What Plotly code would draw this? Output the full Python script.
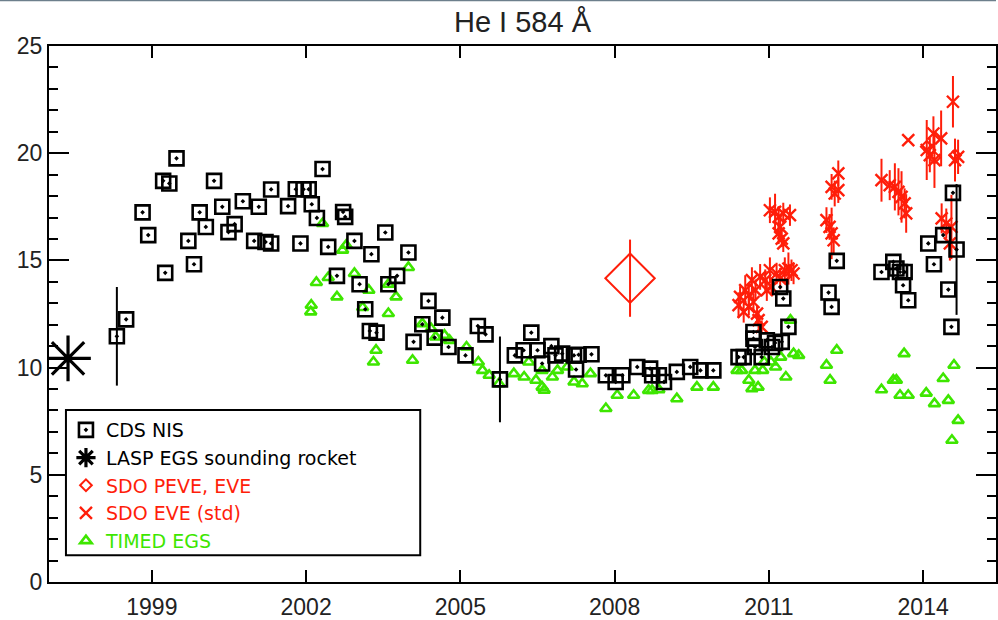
import plotly.graph_objects as go

# ---- CDS NIS (He I 584) ----
cds_year = [1998.32, 1998.50, 1998.82, 1998.93, 1999.22, 1999.34, 1999.26, 1999.48, 1999.71, 1999.82,
            1999.93, 2000.05, 2000.21, 2000.37, 2000.49, 2000.61, 2000.77, 2000.99, 2001.08, 2001.21,
            2001.32, 2001.32, 2001.65, 2001.80, 2001.89, 2001.95, 2002.05, 2002.11, 2002.21, 2002.32,
            2002.43, 2002.60, 2002.72, 2002.76, 2002.94, 2003.04, 2003.15, 2003.24, 2003.37, 2003.27,
            2003.54, 2003.60, 2003.77, 2003.99, 2004.09, 2004.26, 2004.38, 2004.50, 2004.65, 2004.77,
            2005.10, 2005.34, 2005.49, 2005.77, 2006.06, 2006.23, 2006.38, 2006.50, 2006.59, 2006.77,
            2006.85, 2006.98, 2007.21, 2007.25, 2007.30, 2007.55, 2007.83, 2008.02, 2008.15, 2008.44,
            2008.69, 2008.73, 2008.86, 2008.96, 2009.21, 2009.47, 2009.67, 2009.92, 2010.41, 2010.51,
            2010.70, 2010.70, 2010.73, 2010.86, 2010.96, 2011.06, 2011.12, 2011.25, 2011.22, 2011.28,
            2011.38, 2012.16, 2012.22, 2012.32, 2013.19, 2013.42, 2013.48, 2013.55, 2013.64, 2013.61,
            2013.71, 2014.10, 2014.21, 2014.39, 2014.49, 2014.55, 2014.58, 2014.65]
cds_val = [11.46, 12.25, 17.24, 16.18, 18.71, 18.59, 14.42, 19.76, 15.91, 14.82,
           17.24, 16.56, 18.71, 17.50, 16.32, 16.69, 17.76, 15.91, 17.50, 15.86,
           15.79, 18.31, 17.53, 18.32, 15.79, 18.32, 18.32, 17.62, 16.98, 19.26,
           15.63, 14.28, 17.26, 17.03, 15.91, 13.89, 12.72, 11.71, 11.63, 15.29,
           16.30, 13.89, 14.28, 15.37, 11.20, 12.02, 13.11, 11.40, 12.33, 10.96,
           10.57, 11.94, 11.55, 9.45, 10.57, 10.81, 11.63, 10.81, 10.19, 11.00,
           10.57, 10.65, 10.57, 9.91, 10.60, 10.62, 9.64, 9.33, 9.64, 10.03,
           9.95, 9.64, 9.64, 9.33, 9.80, 10.03, 9.87, 9.87, 10.49, 10.49,
           11.66, 11.35, 10.96, 10.49, 11.27, 10.96, 11.15, 11.20, 13.76, 13.22,
           11.90, 13.50, 12.83, 14.98, 14.46, 14.93, 14.62, 14.46, 14.46, 13.84,
           13.14, 15.79, 14.82, 16.18, 13.64, 11.90, 18.15, 15.51]
cds_err = {1998.32: 2.3, 2005.77: 2.0, 2014.65: 3.05}

# ---- LASP EGS sounding rocket ----
lasp_year = [1997.37]
lasp_val = [10.43]

# ---- SDO PEVE (2008 rocket) and EVE rocket flights ----
peve_year = [2008.30]
peve_val = [14.17]
peve_err = [1.8]
everocket_year = [2011.30, 2014.07, 2014.22, 2014.45, 2014.62]
everocket_val = [14.30, 20.30, 19.80, 16.50, 19.90]

# ---- SDO EVE (std) ----
eve_year = [2010.41, 2010.44, 2010.51, 2010.54, 2010.61, 2010.61, 2010.67, 2010.70, 2010.74, 2010.77,
            2010.80, 2010.83, 2010.86, 2010.93, 2010.96, 2011.02, 2011.05, 2011.15, 2011.22, 2011.31,
            2011.38, 2011.44, 2011.48, 2011.02, 2011.12, 2011.19, 2011.28, 2011.41, 2011.22, 2011.25,
            2011.28, 2011.19, 2012.22, 2012.28, 2012.12, 2012.18, 2012.22, 2012.26, 2012.35, 2012.35,
            2013.19, 2013.35, 2013.45, 2013.52, 2013.58, 2013.64, 2013.67, 2013.71, 2014.07, 2014.13,
            2014.20, 2014.22, 2014.35, 2014.58, 2014.62, 2014.68, 2014.36, 2014.45, 2014.55, 2014.52]
eve_val = [12.91, 13.30, 12.60, 13.61, 12.83, 13.38, 14.08, 13.06, 13.61, 12.52,
           12.21, 14.23, 11.90, 14.08, 13.61, 14.54, 13.76, 14.39, 14.15, 14.54,
           14.62, 14.54, 14.39, 17.34, 17.26, 17.03, 17.19, 17.11, 16.56, 16.02,
           15.79, 16.26, 18.43, 18.12, 16.88, 16.56, 16.26, 15.94, 19.06, 18.28,
           18.74, 18.51, 18.43, 18.20, 17.96, 17.66, 17.19, 20.61, 20.15, 19.91,
           20.92, 19.68, 20.69, 22.40, 19.68, 19.83, 16.96, 16.72, 16.56, 15.79]
eve_err = [0.6, 0.5, 0.5, 0.7, 0.4, 0.5, 0.6, 0.4, 0.5, 0.4,
           0.4, 0.6, 0.3, 0.5, 0.5, 0.6, 0.4, 0.5, 0.5, 0.6,
           0.75, 0.5, 0.5, 0.6, 0.85, 0.5, 0.5, 0.5, 0.5, 0.4,
           0.4, 0.5, 0.6, 0.6, 0.6, 0.6, 1.2, 0.6, 0.6, 0.6,
           1.0, 0.7, 1.1, 1.1, 1.2, 0.7, 0.9, 0.0, 1.4, 0.8,
           0.8, 1.3, 1.3, 1.2, 1.0, 0.8, 0.7, 0.7, 1.5, 0.8]

# ---- TIMED EGS ----
timed_year = [2002.10, 2002.09, 2002.20, 2002.32, 2002.43, 2002.60, 2002.71, 2002.78, 2002.94, 2003.10,
              2003.22, 2003.31, 2003.36, 2003.60, 2003.60, 2003.75, 2003.99, 2004.07, 2004.26, 2004.43,
              2004.52, 2004.69, 2004.79, 2005.12, 2005.35, 2005.43, 2005.56, 2005.75, 2006.04, 2006.24,
              2006.33, 2006.47, 2006.59, 2006.63, 2006.59, 2006.79, 2006.89, 2007.08, 2007.21, 2007.37,
              2007.53, 2007.83, 2008.05, 2008.37, 2008.66, 2008.73, 2008.86, 2009.21, 2009.60, 2009.92,
              2010.38, 2010.47, 2010.61, 2010.67, 2010.73, 2010.79, 2010.88, 2010.91, 2011.04, 2011.13,
              2011.23, 2011.33, 2011.42, 2011.48, 2011.58, 2012.12, 2012.19, 2012.32, 2013.19, 2013.42,
              2013.48, 2013.55, 2013.63, 2013.71, 2014.06, 2014.22, 2014.39, 2014.49, 2014.60, 2014.68,
              2014.56]
timed_val = [12.91, 12.60, 13.97, 16.72, 14.20, 13.30, 15.48, 15.71, 14.39, 12.80,
             13.61, 10.26, 10.81, 12.52, 13.89, 13.30, 14.67, 10.34, 12.05, 11.82,
             11.43, 11.51, 11.27, 10.96, 10.26, 9.87, 9.64, 9.25, 9.72, 9.56,
             10.26, 9.41, 9.09, 8.95, 9.87, 9.56, 9.87, 10.03, 9.33, 9.25,
             9.72, 8.09, 8.71, 8.71, 8.94, 8.94, 8.97, 8.55, 9.09, 9.09,
             9.87, 9.87, 9.41, 9.02, 9.87, 9.09, 9.87, 10.26, 10.26, 10.03,
             10.49, 9.56, 12.21, 10.65, 10.57, 10.11, 9.41, 10.81, 8.97, 9.41,
             9.41, 8.71, 10.65, 8.71, 8.81, 8.32, 9.49, 8.47, 10.11, 7.54,
             6.61]

# ---- axes ----
x_ticks = [1999, 2002, 2005, 2008, 2011, 2014]
x_range = [1997.0, 2015.417]
y_ticks = [0, 5, 10, 15, 20, 25]
y_range = [0, 25]

RED = "#ff1e0a"
GREEN = "#3ee600"
FONT = "Liberation Sans"
LEG_FONT = "DejaVu Sans"

cds_err_arr = [cds_err.get(y, 0.0) for y in cds_year]

fig = go.Figure()

fig.add_trace(go.Scatter(
    x=timed_year, y=timed_val, mode="markers", name=f"<span style='color:{GREEN}'>TIMED EGS</span>",
    marker=dict(symbol="triangle-up-open", size=10, color=GREEN, line=dict(width=2.6, color=GREEN)),
    legendrank=5))

fig.add_trace(go.Scatter(
    x=eve_year, y=eve_val, mode="markers", name=f"<span style='color:{RED}'>SDO EVE (std)</span>",
    marker=dict(symbol="x-thin-open", size=12, color=RED, line=dict(width=2.4, color=RED)),
    error_y=dict(type="data", array=eve_err, color=RED, thickness=2, width=0),
    legendrank=4))

fig.add_trace(go.Scatter(
    x=everocket_year, y=everocket_val, mode="markers", name=f"<span style='color:{RED}'>SDO PEVE, EVE</span>",
    marker=dict(symbol="diamond-open", size=9, color=RED, line=dict(width=2, color=RED)),
    legendrank=3))

fig.add_trace(go.Scatter(
    x=peve_year, y=peve_val, mode="markers", showlegend=False,
    marker=dict(symbol="diamond-open", size=38, color=RED, line=dict(width=2, color=RED)),
    error_y=dict(type="data", array=peve_err, color=RED, thickness=2, width=0)))

fig.add_trace(go.Scatter(
    x=cds_year, y=cds_val, mode="markers", name="CDS NIS",
    marker=dict(symbol="square-open-dot", size=14, color="black", line=dict(width=2.6, color="black")),
    error_y=dict(type="data", array=cds_err_arr, color="black", thickness=2, width=0),
    legendrank=1))

fig.add_trace(go.Scatter(
    x=lasp_year, y=lasp_val, mode="markers", name="LASP EGS sounding rocket",
    marker=dict(symbol="asterisk-open", size=38, color="black", line=dict(width=3.2, color="black")),
    legendrank=2))

axis_common = dict(showgrid=False, zeroline=False, showline=True, linecolor="black", linewidth=2,
                   mirror="ticks", ticks="inside", tickcolor="black", tickwidth=2,
                   tickfont=dict(family=FONT, size=23, color="#222"))

fig.update_xaxes(range=x_range, tickvals=x_ticks, ticklen=12, ticklabelstandoff=3, **axis_common)
fig.update_yaxes(range=y_range, tickvals=y_ticks, ticklen=20,
                 minor=dict(dtick=1, ticklen=9, ticks="inside", tickcolor="black", tickwidth=2),
                 **axis_common)

# legend frame (paper coordinates of the plot area)
LEG_X0, LEG_X1, LEG_Y0, LEG_Y1 = 0.0179, 0.392, 0.050, 0.321

fig.update_layout(
    width=998, height=620,
    margin=dict(l=49, r=0, t=46, b=38),
    paper_bgcolor="white", plot_bgcolor="white",
    title=dict(text="He I 584 Å", x=0.5, xref="paper", xanchor="center",
               y=1 - 22 / 620, yref="container", yanchor="middle",
               font=dict(family=FONT, size=29, color="#222")),
    legend=dict(x=LEG_X0, y=LEG_Y1 - 0.002, xanchor="left", yanchor="top", bgcolor="rgba(0,0,0,0)",
                borderwidth=0,
                font=dict(family=LEG_FONT, size=19, color="black"),
                itemsizing="trace", tracegroupgap=0),
    shapes=[
        dict(type="rect", xref="paper", yref="paper", x0=LEG_X0, x1=LEG_X1, y0=LEG_Y0, y1=LEG_Y1,
             fillcolor="white", line=dict(color="black", width=2), layer="above"),
        dict(type="line", xref="paper", yref="paper", x0=-0.06, x1=1.0, y0=1.0855, y1=1.0855,
             line=dict(color="#6d7f8c", width=2)),
    ],
    showlegend=True,
)

fig.write_html("out.html")
